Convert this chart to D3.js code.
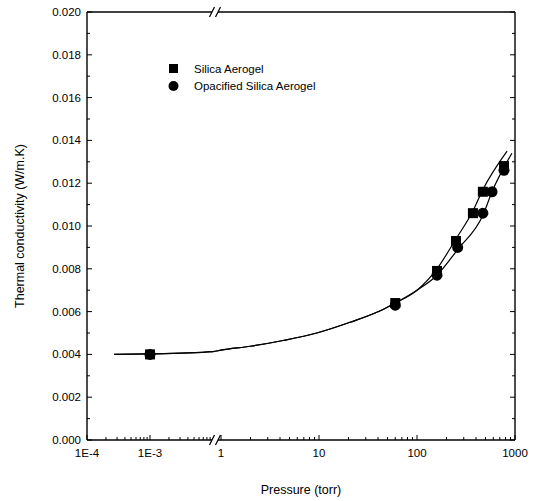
<!DOCTYPE html>
<html>
<head>
<meta charset="utf-8">
<script src="https://cdn.jsdelivr.net/npm/d3@7"></script>
<style>
  body { margin: 0; background: #fff; }
  svg { display: block; }
</style>
</head>
<body>
<div id="chart"></div>
<script>
// measured points (pressure in torr, conductivity in W/m.K)
const silicaP = [0.001, 60, 160, 250, 372, 470, 772];
const silicaK = [0.0040, 0.0064, 0.0079, 0.0093, 0.0106, 0.0116, 0.0128];
const opacP = [0.001, 60, 160, 260, 470, 583, 772];
const opacK = [0.0040, 0.0063, 0.0077, 0.0090, 0.0106, 0.0116, 0.0126];

// fitted curves
const fitSharedP = [0.00027, 0.001, 0.01, 1, 2, 4.3, 9.5, 20.7, 45, 60, 100];
const fitSharedK = [0.0040, 0.00402, 0.00413, 0.00420, 0.00438, 0.00465, 0.00500, 0.00550, 0.0061, 0.0064, 0.0070];
const fitSilicaP = [160, 250, 372, 470, 830];
const fitSilicaK = [0.0080, 0.0094, 0.0107, 0.0117, 0.0135];
const fitOpacP = [160, 260, 470, 583, 930];
const fitOpacK = [0.0077, 0.0089, 0.0105, 0.0116, 0.0134];

const xTickValues = [1e-4, 1e-3, 1, 10, 100, 1000];
const xTickLabels = ["1E-4", "1E-3", "1", "10", "100", "1000"];
const yTickValues = [0, 0.002, 0.004, 0.006, 0.008, 0.010, 0.012, 0.014, 0.016, 0.018, 0.020];

const seriesNames = ["Silica Aerogel", "Opacified Silica Aerogel"];

const width = 541, height = 501;
const pLeft = 87, pRight = 515, pTop = 12, pBottom = 440;
const breakA = 212, breakB = 218;

// broken log axis: two segments
const xLow = d3.scaleLog().domain([1e-4, 1e-2]).range([pLeft, 213]);
const xHigh = d3.scaleLog().domain([1, 1000]).range([221, pRight]);
const x = p => p <= 0.01 ? xLow(p) : xHigh(p);
const y = d3.scaleLinear().domain([0, 0.020]).range([pBottom, pTop]);

const svg = d3.select("#chart").append("svg")
  .attr("width", width)
  .attr("height", height)
  .attr("font-family", "Liberation Sans, Arial, sans-serif");

const zip = (ps, ks) => ps.map((p, i) => [p, ks[i]]);

// frame with breaks
const frame = svg.append("g").attr("stroke", "#000").attr("stroke-width", 1.4).attr("fill", "none");
frame.append("line").attr("x1", pLeft).attr("x2", pLeft).attr("y1", pTop).attr("y2", pBottom);
frame.append("line").attr("x1", pRight).attr("x2", pRight).attr("y1", pTop).attr("y2", pBottom);
[pTop, pBottom].forEach(yy => {
  frame.append("line").attr("x1", pLeft).attr("x2", breakA).attr("y1", yy).attr("y2", yy);
  frame.append("line").attr("x1", breakB).attr("x2", pRight).attr("y1", yy).attr("y2", yy);
  [breakA, breakB].forEach(bx => {
    frame.append("line")
      .attr("stroke-width", 1.2)
      .attr("x1", bx - 2.5).attr("y1", yy + 5)
      .attr("x2", bx + 2.5).attr("y2", yy - 5);
  });
});

// ticks
const ticks = svg.append("g").attr("stroke", "#000").attr("stroke-width", 1);
const minorX = [];
[1e-4, 1e-3, 1, 10, 100].forEach(a => {
  for (let m = 2; m <= 9; m++) minorX.push(a * m);
});
minorX.forEach(p => {
  ticks.append("line").attr("x1", x(p)).attr("x2", x(p)).attr("y1", pBottom).attr("y2", pBottom - 3);
});
xTickValues.forEach(p => {
  ticks.append("line").attr("x1", x(p)).attr("x2", x(p)).attr("y1", pBottom).attr("y2", pBottom - 5);
});
d3.range(0, 21).forEach(i => {
  const v = i / 1000;
  const len = i % 2 === 0 ? 5 : 3;
  ticks.append("line").attr("x1", pLeft).attr("x2", pLeft + len).attr("y1", y(v)).attr("y2", y(v));
  ticks.append("line").attr("x1", pRight).attr("x2", pRight - len).attr("y1", y(v)).attr("y2", y(v));
});

// tick labels
const fmt = d3.format(".3f");
svg.append("g").attr("font-size", 11.5).attr("text-anchor", "end")
  .selectAll("text").data(yTickValues).join("text")
  .attr("x", pLeft - 6)
  .attr("y", d => y(d) + 4)
  .text(fmt);

svg.append("g").attr("font-size", 11.5).attr("text-anchor", "middle")
  .selectAll("text").data(xTickValues).join("text")
  .attr("x", d => x(d))
  .attr("y", pBottom + 17)
  .text((d, i) => xTickLabels[i]);

// axis titles
svg.append("text")
  .attr("font-size", 12.5)
  .attr("text-anchor", "middle")
  .attr("transform", `translate(24,${(pTop + pBottom) / 2}) rotate(-90)`)
  .text("Thermal conductivity (W/m.K)");

svg.append("text")
  .attr("font-size", 12.5)
  .attr("text-anchor", "middle")
  .attr("x", (pLeft + pRight) / 2)
  .attr("y", 494)
  .text("Pressure (torr)");

// fitted curves
const line = d3.line().x(d => x(d[0])).y(d => y(d[1])).curve(d3.curveMonotoneX);
const shared = zip(fitSharedP, fitSharedK);
const curves = svg.append("g").attr("fill", "none").attr("stroke", "#000").attr("stroke-width", 1.2);
curves.append("path").attr("d", line(shared.concat(zip(fitSilicaP, fitSilicaK))));
curves.append("path").attr("d", line(shared.concat(zip(fitOpacP, fitOpacK))));

// markers
svg.append("g").selectAll("circle").data(zip(opacP, opacK)).join("circle")
  .attr("cx", d => x(d[0]))
  .attr("cy", d => y(d[1]))
  .attr("r", 5.5)
  .attr("fill", "#000");

svg.append("g").selectAll("rect").data(zip(silicaP, silicaK)).join("rect")
  .attr("x", d => x(d[0]) - 5)
  .attr("y", d => y(d[1]) - 5)
  .attr("width", 10)
  .attr("height", 10)
  .attr("fill", "#000");

// legend
const legend = svg.append("g").attr("font-size", 11.5);
legend.append("rect").attr("x", 169).attr("y", 64).attr("width", 9).attr("height", 9).attr("fill", "#000");
legend.append("circle").attr("cx", 173.5).attr("cy", 86).attr("r", 5).attr("fill", "#000");
legend.selectAll("text").data(seriesNames).join("text")
  .attr("x", 194)
  .attr("y", (d, i) => 73 + i * 17)
  .text(d => d);
</script>
</body>
</html>
